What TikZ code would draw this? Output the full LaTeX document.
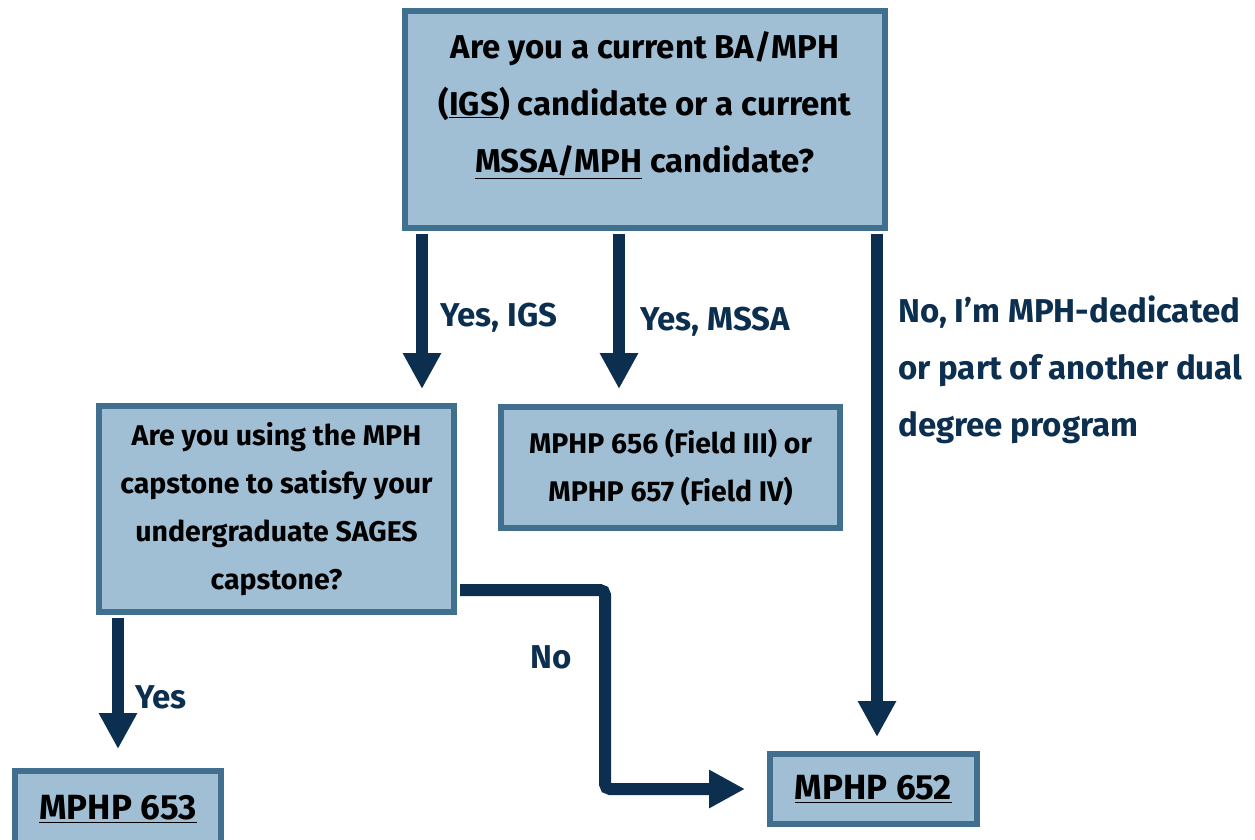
\documentclass[tikz,border=0pt]{standalone}
\usepackage{fontspec}
\setmainfont{Fira Sans}
\usepackage{tikz}
\usetikzlibrary{arrows.meta, calc, positioning}
\definecolor{boxfill}{HTML}{A0BED4}
\definecolor{boxline}{HTML}{41708F}
\definecolor{flowcol}{HTML}{0C2F4F}
\newcommand{\flowTip}{{Triangle[length=36pt,width=36pt]}}

\begin{document}
\begin{tikzpicture}[x=1pt, y=1pt, font=\bfseries,
	qbox/.style={draw=boxline, fill=boxfill, line width=6pt, inner sep=0pt},
	flow/.style={draw=flowcol, line width=12pt, -\flowTip, shorten <=3pt},
	lbl/.style={text=flowcol, anchor=west, align=left, inner sep=0pt, font=\bfseries\fontsize{33}{57}\selectfont}]
	\useasboundingbox (0,0) rectangle (1255,-839);
	
	% boxes
	\node[qbox, minimum width=480, minimum height=217] (q1) at (645,-119.5) {};
	\node[align=center, font=\bfseries\fontsize{33}{57}\selectfont] (q1txt) at (645,-105)
		{Are you a current BA/MPH\\(\underline{IGS}) candidate or a current\\\underline{MSSA/MPH} candidate?};
	\node[qbox, minimum width=355, minimum height=206, align=center, font=\bfseries\fontsize{28.5}{48}\selectfont] (q2) at (276.5,-509)
		{Are you using the MPH\\capstone to satisfy your\\undergraduate SAGES\\capstone?};
	\node[qbox, minimum width=339, minimum height=121, align=center, font=\bfseries\fontsize{28.4}{48}\selectfont] (ans656) at (670.5,-467.5)
		{MPHP 656 (Field III) or\\MPHP 657 (Field IV)};
	\node[qbox, minimum width=206, minimum height=76, font=\bfseries\fontsize{35}{40}\selectfont] (ans653) at (118,-809) {\underline{MPHP 653}};
	\node[qbox, minimum width=207, minimum height=70, font=\bfseries\fontsize{35}{40}\selectfont] (ans652) at (873.5,-789) {\underline{MPHP 652}};
	
	% arrows
	\draw[flow, shorten >=14pt] ([xshift=20]q1.south west) -- ([xshift=20]q1.south west |- q2.north);
	\draw[flow, shorten >=15pt] ([xshift=217]q1.south west) -- ([xshift=217]q1.south west |- ans656.north);
	\draw[flow, shorten >=14pt] ([xshift=3.5]q1.south -| ans652) -- ([xshift=3.5]ans652.north);
	\draw[flow, shorten >=19pt] (q2.south -| ans653) -- (ans653.north);
	\draw[flow, shorten >=22pt, rounded corners=5pt] ([yshift=-81]q2.east) -- ++(148,0) |- (ans652.west);
	
	% labels
	\node[lbl] (yesigs) at (440,-318) {Yes, IGS};
	\node[lbl] (yesmssa) at (640,-322) {Yes, MSSA};
	\node[lbl] (nodual) at (898,-370) {No, I’m MPH-dedicated\\or part of another dual\\degree program};
	\node[lbl] (no) at (530,-657) {No};
	\node[lbl] (yes) at (135,-697) {Yes};
\end{tikzpicture}
\end{document}
